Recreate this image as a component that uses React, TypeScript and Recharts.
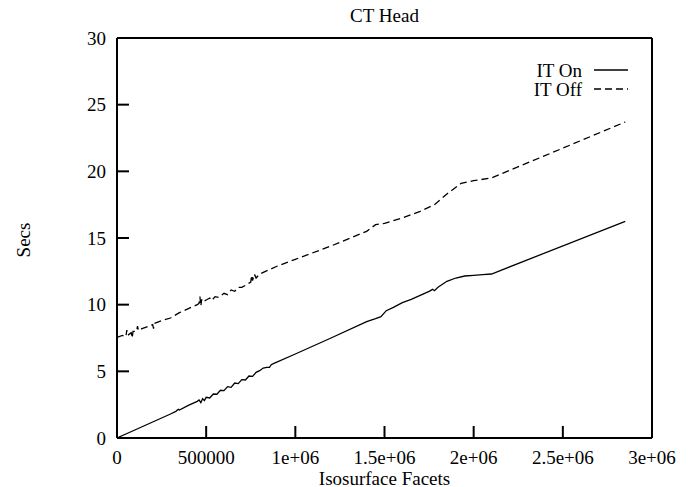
import React from 'react';
import { LineChart, Line, XAxis, YAxis } from 'recharts';

// Timing for the CT Head data set: seconds vs. number of isosurface facets
const onX = [
  0, 50000, 100000, 150000, 200000, 250000, 300000, 330000, 344000, 350000, 400000, 450000,
  460000, 470000, 480000, 490000, 500000, 520000, 540000, 560000, 580000, 600000, 620000,
  640000, 660000, 680000, 700000, 720000, 740000, 760000, 780000, 800000, 820000, 840000,
  855000, 865000, 880000, 1000000, 1200000, 1400000, 1450000, 1480000, 1510000, 1550000,
  1600000, 1650000, 1700000, 1750000, 1770000, 1780000, 1800000, 1850000, 1900000, 1950000,
  2000000, 2050000, 2100000, 2850000,
];
const onY = [
  0, 0.3, 0.6, 0.9, 1.2, 1.5, 1.8, 2.0, 2.15, 2.1, 2.45, 2.75,
  2.85, 2.65, 2.95, 2.8, 3.05, 3.0, 3.3, 3.28, 3.58, 3.55, 3.85,
  3.8, 4.12, 4.08, 4.38, 4.35, 4.65, 4.62, 4.92, 5.05, 5.25, 5.3,
  5.3, 5.5, 5.6, 6.3, 7.5, 8.73, 8.95, 9.1, 9.55, 9.8,
  10.15, 10.4, 10.7, 11.0, 11.15, 11.05, 11.3, 11.75, 12.0, 12.15,
  12.2, 12.25, 12.3, 16.25,
];

const offX = [
  0, 30000, 50000, 55000, 60000, 80000, 85000, 90000, 110000, 115000, 120000, 140000,
  160000, 200000, 205000, 210000, 250000, 300000, 350000, 400000, 450000, 460000, 465000,
  470000, 475000, 480000, 500000, 520000, 530000, 550000, 570000, 600000, 620000, 640000,
  660000, 680000, 700000, 720000, 750000, 755000, 760000, 770000, 780000, 800000, 900000,
  1000000, 1200000, 1400000, 1450000, 1500000, 1600000, 1700000, 1780000, 1850000, 1930000,
  2000000, 2100000, 2850000,
];
const offY = [
  7.55, 7.7, 7.6, 8.1, 7.7, 7.9, 7.5, 8.0, 8.0, 8.4, 8.05, 8.2,
  8.3, 8.5, 8.2, 8.6, 8.8, 9.0, 9.4, 9.7, 10.0, 10.1, 10.6,
  9.9, 10.4, 10.2, 10.35, 10.5, 10.3, 10.6, 10.55, 10.85, 10.75, 11.1,
  11.0, 11.3, 11.3, 11.45, 11.7, 12.2, 11.8, 12.3, 12.0, 12.3, 12.9,
  13.4, 14.4, 15.5, 16.0, 16.1, 16.5, 17.0, 17.5, 18.3, 19.1,
  19.3, 19.5, 23.7,
];

const xTicks = [0, 500000, 1000000, 1500000, 2000000, 2500000, 3000000];
const xTickLabels = ['0', '500000', '1e+06', '1.5e+06', '2e+06', '2.5e+06', '3e+06'];
const yTicks = [0, 5, 10, 15, 20, 25, 30];

const seriesNames = ['IT On', 'IT Off'];
const seriesDash = ['', '7 4'];
const chartTitle = 'CT Head';
const xTitle = 'Isosurface Facets';
const yTitle = 'Secs';

const onData = onX.map((x, i) => ({ x, y: onY[i] }));
const offData = offX.map((x, i) => ({ x, y: offY[i] }));

const FONT = '"Liberation Serif", "DejaVu Serif", serif';
const FS = 19;
const frame = { stroke: '#000', strokeWidth: 2 };

const formatX = (v: number) => {
  const i = xTicks.indexOf(v);
  return i >= 0 ? xTickLabels[i] : String(v);
};

const TitleLabel = (props: any) => {
  const vb = props.viewBox;
  return (
    <text x={vb.x + vb.width / 2} y={vb.y + 15} textAnchor="middle" dominantBaseline="central"
      fontFamily={FONT} fontSize={FS} fill="#000">{chartTitle}</text>
  );
};

const XTitleLabel = (props: any) => {
  const vb = props.viewBox;
  return (
    <text x={vb.x + vb.width / 2} y={vb.y + 40} textAnchor="middle" dominantBaseline="central"
      fontFamily={FONT} fontSize={FS} fill="#000">{xTitle}</text>
  );
};

const YTitleLabel = (props: any) => {
  const vb = props.viewBox;
  const cx = vb.x + 23;
  const cy = vb.y + vb.height / 2 + 2;
  return (
    <text x={cx} y={cy} textAnchor="middle" dominantBaseline="central" transform={`rotate(-90 ${cx} ${cy})`}
      fontFamily={FONT} fontSize={FS} fill="#000">{yTitle}</text>
  );
};

const LegendLabel = (props: any) => {
  const vb = props.viewBox;
  return (
    <g>
      {seriesNames.map((name, i) => {
        const y = vb.y + 32 + i * 19;
        return (
          <g key={name}>
            <text x={vb.x - 70} y={y} textAnchor="end" dominantBaseline="central"
              fontFamily={FONT} fontSize={FS} fill="#000">{name}</text>
            <line x1={vb.x - 58} x2={vb.x - 24} y1={y} y2={y} stroke="#000" strokeWidth={1.3}
              strokeDasharray={seriesDash[i] || undefined} />
          </g>
        );
      })}
    </g>
  );
};

export default function App() {
  return (
    <div style={{ margin: '-8px 0 0 -8px', width: 689, height: 487 }}>
      <LineChart width={689} height={487} margin={{ top: 0, right: 0, bottom: 0, left: 0 }}>
        <XAxis
          dataKey="x" type="number" domain={[0, 3000000]} ticks={xTicks} interval={0}
          tickFormatter={formatX} allowDataOverflow height={49}
          tickSize={-12} tickMargin={25}
          axisLine={frame} tickLine={frame}
          tick={{ fill: '#000', fontSize: FS, fontFamily: FONT }}
          label={{ content: XTitleLabel }}
        />
        <XAxis
          xAxisId="top" orientation="top" dataKey="x" type="number" domain={[0, 3000000]}
          ticks={xTicks} interval={0} height={38} tick={false} tickSize={-12}
          axisLine={frame} tickLine={frame}
          label={{ content: TitleLabel }}
        />
        <YAxis
          type="number" domain={[0, 30]} ticks={yTicks} interval={0} width={117}
          tickSize={-12} tickMargin={23}
          axisLine={frame} tickLine={frame}
          tick={{ fill: '#000', fontSize: FS, fontFamily: FONT }}
          label={{ content: YTitleLabel }}
        />
        <YAxis
          yAxisId="right" orientation="right" type="number" domain={[0, 30]} ticks={yTicks}
          interval={0} width={37} tick={false} tickSize={-12}
          axisLine={frame} tickLine={frame}
          label={{ content: LegendLabel }}
        />
        <Line data={onData} dataKey="y" name={seriesNames[0]} stroke="#000" strokeWidth={1.3}
          dot={false} isAnimationActive={false} />
        <Line data={offData} dataKey="y" name={seriesNames[1]} stroke="#000" strokeWidth={1.3}
          strokeDasharray={seriesDash[1]} dot={false} isAnimationActive={false} />
      </LineChart>
    </div>
  );
}
